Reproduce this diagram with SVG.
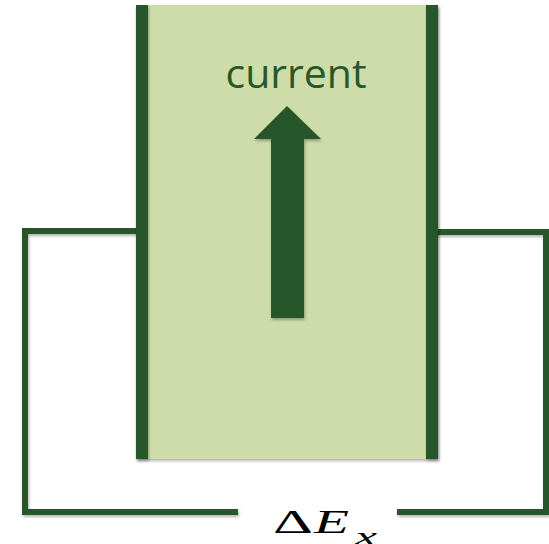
<svg xmlns="http://www.w3.org/2000/svg" width="549" height="544" viewBox="0 0 549 544">
<defs>
<filter id="sh" x="-20%" y="-5%" width="140%" height="110%">
<feDropShadow dx="1" dy="2" stdDeviation="1.5" flood-color="#000" flood-opacity="0.3"/>
</filter>
<style>
.wire{fill:none;stroke:#27572a;stroke-width:6;stroke-linejoin:miter;stroke-linecap:butt}
.bar{fill:#27572a}
.math{font-family:'Liberation Serif', serif;fill:#000}
</style>
</defs>
<rect width="549" height="544" fill="#ffffff"/>
<g id="connectors" filter="url(#sh)">
<polyline class="wire" points="140,231 25,231 25,512 238,512"/>
<polyline class="wire" points="434,232 546,232 546,512 397,512"/>
</g>
<g id="conductor">
<rect x="136" y="5" width="302" height="454" fill="#cedcaa" filter="url(#sh)"/>
<rect class="bar" x="136" y="5" width="12" height="454" filter="url(#sh)"/>
<rect class="bar" x="426" y="5" width="12" height="454" filter="url(#sh)"/>
</g>
<g id="current">
<text x="296" y="88" text-anchor="middle" font-family="'Open Sans', 'Noto Sans', sans-serif" font-size="40" fill="#27572a" textLength="141" lengthAdjust="spacingAndGlyphs">current</text>
<polygon points="287,106 321,139 304,139 304,318 271,318 271,139 254,139" fill="#27572a" filter="url(#sh)"/>
</g>
<g id="label">
<text class="math" x="273" y="533" font-size="34" textLength="40" lengthAdjust="spacingAndGlyphs">Δ</text>
<text class="math" x="314" y="533" font-size="34" font-style="italic" textLength="35" lengthAdjust="spacingAndGlyphs">E</text>
<text class="math" x="355" y="545" font-size="26" font-style="italic" textLength="22" lengthAdjust="spacingAndGlyphs">x</text>
</g>
</svg>
